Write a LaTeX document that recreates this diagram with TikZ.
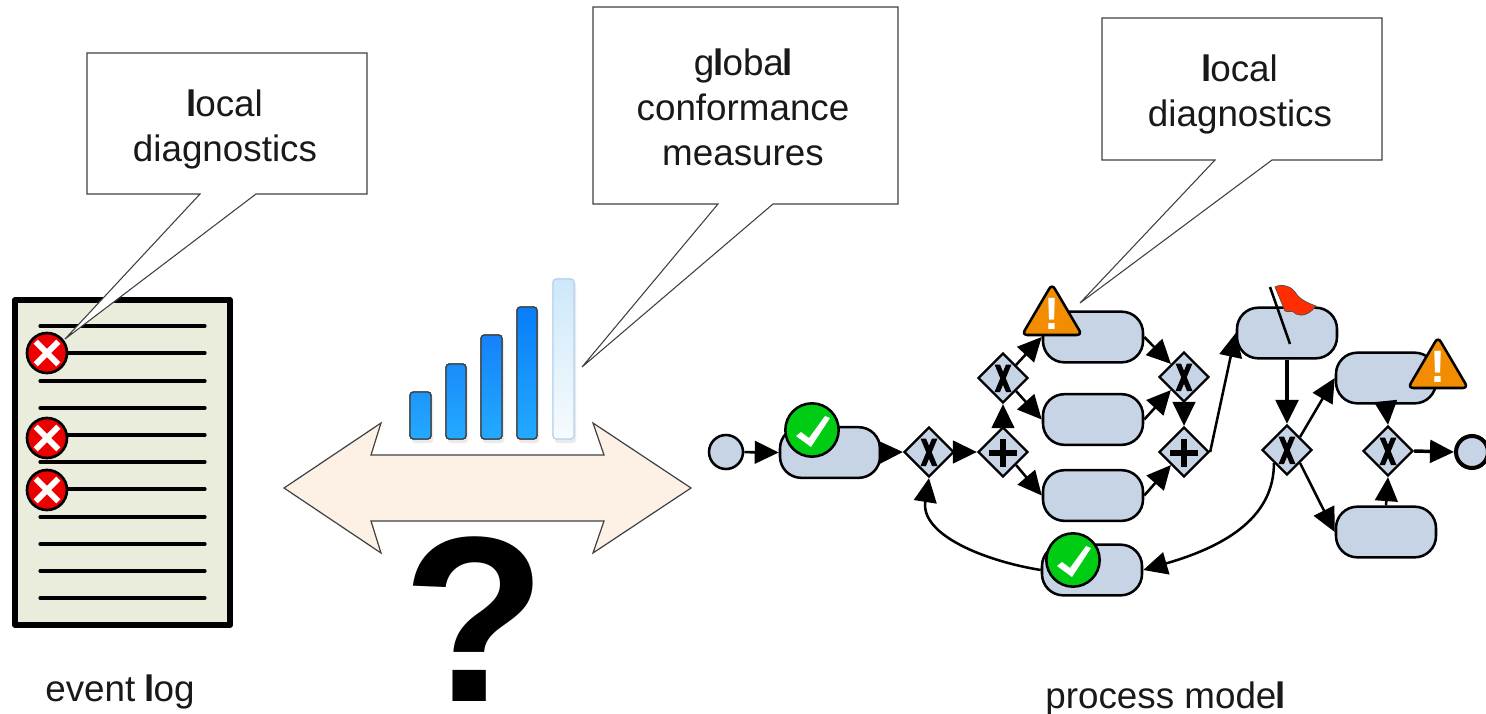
\documentclass[tikz,border=0pt]{standalone}
\usepackage{fontspec}
\setmainfont{Liberation Sans}
\usetikzlibrary{arrows.meta,shapes.geometric}
\definecolor{taskblue}{HTML}{C6D4E5}
\definecolor{logfill}{HTML}{EAEDDC}
\definecolor{arrowfill}{HTML}{FDF0E5}
\definecolor{warnorange}{HTML}{F28C00}
\definecolor{okgreen}{HTML}{00CC14}
\definecolor{errred}{HTML}{EE0000}
\definecolor{flagred}{HTML}{FF2D00}
\definecolor{calloutline}{HTML}{404040}
\newcommand{\barshape}[5]{%
  \fill[black,opacity=.08,rounded corners=2pt] (#1+2,#2+3) rectangle (#3+2,#4+4);
  \shade[#5,rounded corners=2.5pt,line width=1pt] (#1,#2) rectangle (#3,#4);
  \draw[#5,rounded corners=2.5pt,line width=1pt] (#1,#2) rectangle (#3,#4);}
\newcommand{\warnsign}[3]{%
  \draw[warnsign] (#1,#2) -- (#1+30,#2+51) -- (#1-30,#2+51) -- cycle;
  \node[warnmark] (#3) at (#1,#2+30) {!};}
\newcommand{\heavyl}{\kern-.028em{\bfseries l}\kern-.028em}
\tikzset{
  mainlabel/.style={font=\fontsize{27.6}{33.75}\selectfont,align=center,inner sep=0pt,text=black!90},
  calloutbox/.style={draw=calloutline,fill=white,line width=.8pt,line join=miter},
  logline/.style={line width=2.4pt,line cap=round},
  tasknode/.style={draw=black,fill=taskblue,line width=1.9pt,rounded corners=16pt,
    minimum width=75pt,minimum height=38pt,inner sep=0pt},
  gate/.style={diamond,draw=black,fill=taskblue,line width=1.7pt,minimum size=37.5pt,inner sep=0pt},
  xorgate/.style={gate,path picture={
    \begin{scope}[shift=(path picture bounding box.center)]
      \fill[black] (-8.5,-13.5) -- (-3,-13.5) -- (8.5,14) -- (3,14) -- cycle;
      \fill[black] (8.5,-13.5) -- (3,-13.5) -- (-8.5,14) -- (-3,14) -- cycle;
    \end{scope}}},
  andgate/.style={gate,path picture={
    \begin{scope}[shift=(path picture bounding box.center)]
      \fill[black] (-14,-2) rectangle (14,4);
      \fill[black] (-3,-13) rectangle (3,15);
    \end{scope}}},
  eventnode/.style={circle,draw=black,fill=taskblue,line width=1.9pt,minimum size=25.5pt,inner sep=0pt},
  flow/.style={line width=1.9pt,-{Triangle[length=18pt,width=17pt]}},
  checkbadge/.style={circle,draw=black,fill=okgreen,line width=1.9pt,minimum size=40pt,inner sep=0pt,
    path picture={
    \begin{scope}[shift=(path picture bounding box.center)]
      \fill[white] (-16,6) -- (-11,2) -- (-3,8) -- (13,-14) -- (18,-12) -- (-1,17) -- cycle;
    \end{scope}}},
  crossbadge/.style={circle,draw=black,fill=errred,line width=2pt,minimum size=30pt,inner sep=0pt,
    path picture={
    \begin{scope}[shift=(path picture bounding box.center)]
      \fill[white] (-13.4,-9.2) -- (-9.2,-13.4) -- (13.4,9.2) -- (9.2,13.4) -- cycle;
      \fill[white] (13.4,-9.2) -- (9.2,-13.4) -- (-13.4,9.2) -- (-9.2,13.4) -- cycle;
    \end{scope}}},
  warnsign/.style={draw=black,fill=warnorange,line width=1.9pt,rounded corners=4pt},
  warnmark/.style={text=white,inner sep=0pt,font=\fontsize{34}{34}\bfseries\selectfont},
}
\begin{document}
\begin{tikzpicture}[x=0.75pt,y=-0.75pt]
\useasboundingbox (0,0) rectangle (1486,714);

% event log
\draw[fill=logfill,line width=4.5pt,line join=round] (15,300) rectangle (230,625);
\foreach \yy in {326,353,381,408,435,462,489,517,544,571,598}
  \draw[logline] (40,\yy) -- (205,\yy);

% callout 1
\draw[calloutbox] (87,53) -- (367,53) -- (367,194) -- (256,194) -- (65,339) -- (200,194) -- (87,194) -- cycle;
\node[mainlabel] (localA) at (225,129) {\heavyl ocal\\diagnostics};
\node[crossbadge] (errA) at (47,353) {};
\node[crossbadge] (errB) at (47,438) {};
\node[crossbadge] (errC) at (47,490) {};
\node[mainlabel] (logLabel) at (120,692) {event \heavyl og};

% bars
\barshape{410}{392}{431}{439}{draw=black!75,top color={rgb,255:red,30;green,150;blue,250},bottom color={rgb,255:red,35;green,170;blue,255}}
\barshape{446}{364}{466}{439}{draw=black!75,top color={rgb,255:red,25;green,140;blue,250},bottom color={rgb,255:red,35;green,170;blue,255}}
\barshape{481}{335}{502}{439}{draw=black!75,top color={rgb,255:red,20;green,130;blue,250},bottom color={rgb,255:red,35;green,170;blue,255}}
\barshape{517}{307}{537}{439}{draw=black!75,top color={rgb,255:red,8;green,125;blue,248},bottom color={rgb,255:red,35;green,170;blue,255}}
\barshape{553}{279}{574}{439}{draw={rgb,255:red,185;green,213;blue,240},top color={rgb,255:red,205;green,232;blue,250},bottom color={rgb,255:red,246;green,251;blue,254}}

% double arrow
\draw[draw=calloutline,fill=arrowfill,line width=.9pt,line join=miter]
  (284,488) -- (381,423) -- (371,455) -- (604,455) -- (593,423) -- (691,488)
  -- (593,553) -- (604,521) -- (371,521) -- (381,553) -- cycle;

% callout 2
\draw[calloutbox] (593,7) -- (898,7) -- (898,204) -- (773,204) -- (582,367) -- (718,204) -- (593,204) -- cycle;
\node[mainlabel] (globalC) at (743,107) {g\heavyl oba\heavyl\\conformance\\measures};

% question mark
\node[inner sep=0pt,font=\fontsize{177}{177}\bfseries\selectfont] (question) at (475,619) {?};

% process model nodes
\node[eventnode] (start) at (726,452) {};
\node[tasknode] (A) at (830,452.5) {};
\node[xorgate] (xorA) at (929,452) {};
\node[andgate] (andA) at (1003,452) {};
\node[xorgate] (xorB) at (1003,378) {};
\node[tasknode] (B) at (1093,337) {};
\node[tasknode] (C) at (1093,419.5) {};
\node[tasknode] (D) at (1093,495.5) {};
\node[tasknode] (E) at (1092,570) {};
\node[xorgate] (xorC) at (1184,377) {};
\node[andgate] (andB) at (1184,452) {};
\node[tasknode] (F) at (1287,333) {};
\node[xorgate] (xorD) at (1287,450) {};
\node[tasknode] (G) at (1386,378) {};
\node[tasknode] (H) at (1386,532) {};
\node[xorgate] (xorE) at (1388,451) {};
\node[eventnode,line width=3pt,minimum size=24pt] (stop) at (1472,452) {};

% connectors
\draw[flow] (start) -- (A.west);
\draw[flow] (A.east) -- (xorA.west);
\draw[flow] (xorA.east) -- (andA.west);
\draw[flow] (andA.north) -- (xorB.south);
\draw[flow] (xorB.north east) -- (B.west);
\draw[flow] (xorB.south east) -- (C.west);
\draw[flow] (andA.south east) -- (D.west);
\draw[flow] (B.east) -- (xorC.north west);
\draw[flow] (C.east) -- (xorC.south west);
\draw[flow] (D.east) -- (andB.south west);
\draw[flow] (xorC.south) -- (andB.north);
\draw[flow] (andB.east) -- (F.west);
\draw[flow,line width=2.6pt] (F.south) -- (xorD.north);
\draw[flow] (xorD.north east) -- (G.west);
\draw[flow] (xorD.south east) -- (H.west);
\draw[flow] (G.south) -- (xorE.north);
\draw[flow] (H.north) -- (xorE.south);
\draw[flow,line width=2.6pt] (xorE.east) -- (stop.west);
\draw[flow] (xorD.south west) .. controls (1274,515) and (1230,545) .. (E.east);
\draw[flow] (E.west) .. controls (985,561) and (920,535) .. (xorA.south);

% badges
\node[checkbadge] (okA) at (812,430) {};
\node[checkbadge] (okB) at (1073,560) {};
\warnsign{1052}{284}{warnA}
\warnsign{1438}{337}{warnB}

% flag
\draw[black,line width=1.9pt] (1270,287) -- (1290,344);
\filldraw[fill=flagred,draw=black!70,line width=.5pt]
  (1275,287) .. controls (1280,284) and (1290,285) .. (1295,292)
  .. controls (1300,300) and (1308,303) .. (1316,306)
  .. controls (1310,314) and (1302,317) .. (1296,314)
  .. controls (1292,309) and (1288,313) .. (1285,311) -- cycle;

% callout 3
\draw[calloutbox] (1102,18) -- (1382,18) -- (1382,160) -- (1272,160) -- (1080,303) -- (1215,160) -- (1102,160) -- cycle;
\node[mainlabel] (localB) at (1240,94) {\heavyl ocal\\diagnostics};
\node[mainlabel] (modelLabel) at (1165,699) {process mode\heavyl};
\end{tikzpicture}
\end{document}
